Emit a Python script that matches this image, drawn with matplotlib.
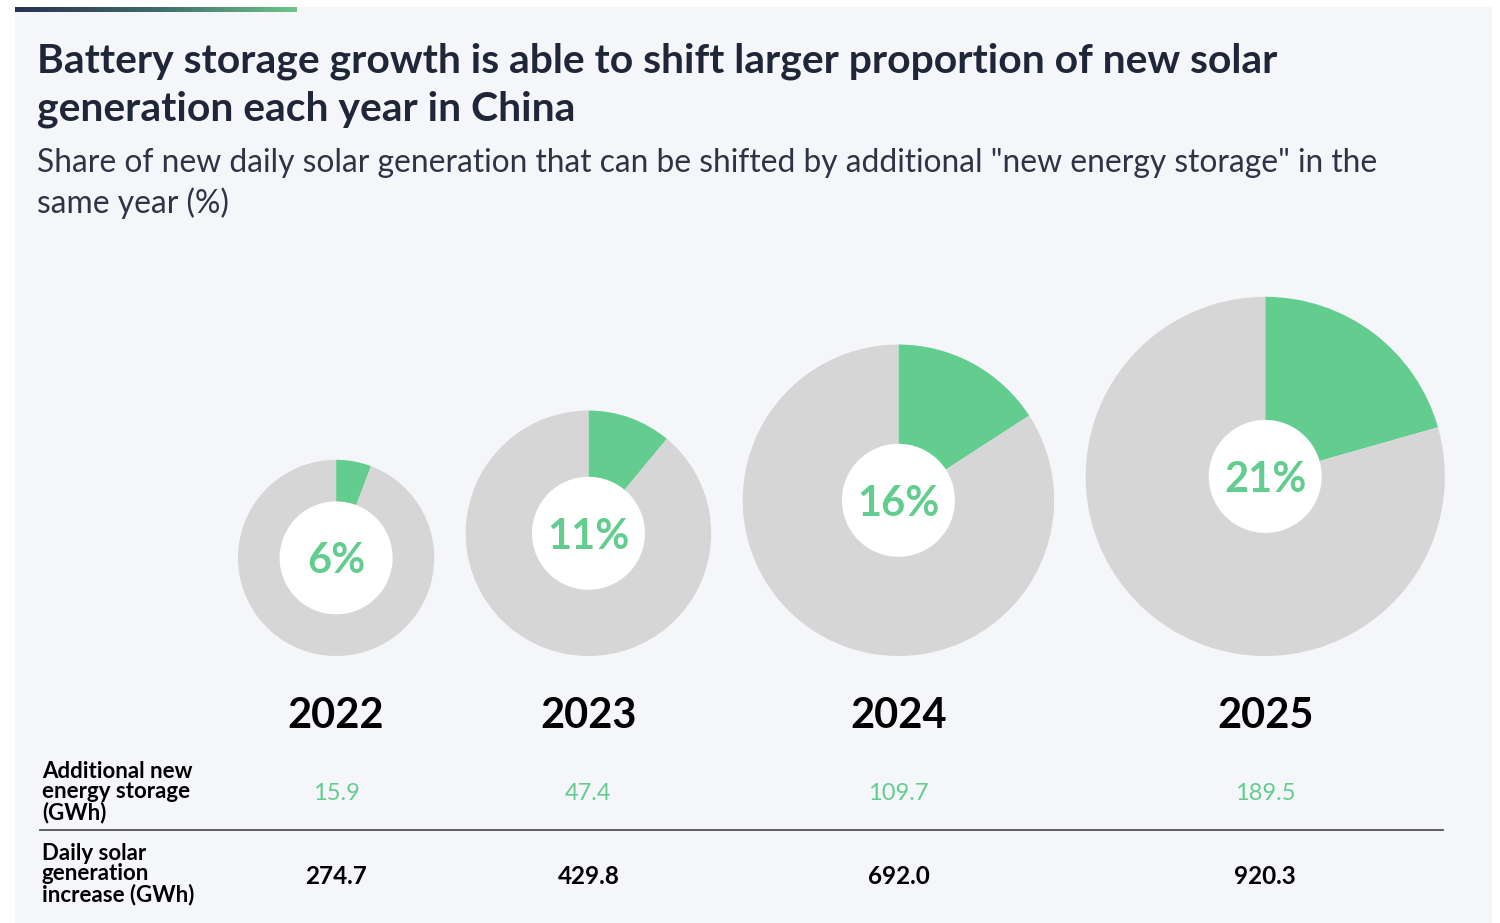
import numpy as np
import matplotlib
matplotlib.use("Agg")
import matplotlib.pyplot as plt
from matplotlib.patches import Rectangle, Circle
from matplotlib.colors import LinearSegmentedColormap

plt.rcParams["font.family"] = ["Lato", "DejaVu Sans"]

# data
years = ["2022", "2023", "2024", "2025"]
storage_gwh = [15.9, 47.4, 109.7, 189.5]
solar_gwh = [274.7, 429.8, 692.0, 920.3]
row_labels = ["Additional new\nenergy storage\n(GWh)",
              "Daily solar\ngeneration\nincrease (GWh)"]

title_lines = ["Battery storage growth is able to shift larger proportion of new solar",
               "generation each year in China"]
subtitle_lines = ["Share of new daily solar generation that can be shifted by additional "
                  "\"new energy storage\" in the",
                  "same year (%)"]

GREEN = "#62cd8e"
GREY = "#d6d6d6"
PANEL = "#f5f6fa"
NAVY = "#1f2638"

W, H = 1500, 923
def Y(p): return H - p   # pixel-from-top -> data y

fig = plt.figure(figsize=(W / 100, H / 100), dpi=100, facecolor="white")
ax = fig.add_axes([0, 0, 1, 1])
ax.axis("off")

# panel + accent bar
ax.add_patch(Rectangle((15, 0), 1477, Y(7), facecolor=PANEL, edgecolor="none", zorder=0))
grad = np.linspace(0, 1, 256).reshape(1, -1)
cmap = LinearSegmentedColormap.from_list("bar", ["#2a3152", "#3f6a6a", "#6cc68a"])
ax.imshow(grad, cmap=cmap, extent=(15, 297, Y(12), Y(7)), aspect="auto", zorder=1)

for line, yb in zip(title_lines, [73, 120]):
    ax.text(37, Y(yb), line, fontsize=29.4, fontweight="bold", color=NAVY,
            va="baseline", ha="left")
for line, yb in zip(subtitle_lines, [172, 213]):
    ax.text(37, Y(yb), line, fontsize=22.9, color="#2e3444",
            va="baseline", ha="left")

# bubbles: area proportional to daily solar increase, bottom aligned
k = 5.92
radii = [k * np.sqrt(v) for v in solar_gwh]
r_in = 56.5
base = 656
gap = 31.5
left = 238
centers = []
for r in radii:
    centers.append(left + r)
    left += 2 * r + gap

for cx, r, s, g, yr in zip(centers, radii, storage_gwh, solar_gwh, years):
    cy = Y(base - r)
    ax.pie([s, g - s], colors=[GREEN, GREY], startangle=90, counterclock=False,
           center=(cx, cy), radius=r, wedgeprops=dict(linewidth=0))
    ax.add_patch(Circle((cx, cy), r_in, facecolor="white", edgecolor="none", zorder=3))
    ax.text(cx, cy, f"{s / g * 100:.0f}%", fontsize=30, fontweight="bold",
            color=GREEN, ha="center", va="center_baseline", zorder=4)
    ax.text(cx, Y(728), yr, fontsize=30, fontweight="bold", color="black",
            ha="center", va="baseline")
    ax.text(cx, Y(792), f"{s:.1f}", fontsize=17, color=GREEN,
            ha="center", va="center_baseline")
    ax.text(cx, Y(874), f"{g:.1f}", fontsize=17.5, fontweight="bold", color="black",
            ha="center", va="center_baseline")

ax.text(42, Y(792), row_labels[0], fontsize=16, fontweight="bold", color="black",
        ha="left", va="center", linespacing=0.95)
ax.text(42, Y(874), row_labels[1], fontsize=16, fontweight="bold", color="black",
        ha="left", va="center", linespacing=0.95)
ax.plot([40, 1443], [Y(830), Y(830)], color="#555555", lw=1.3)

ax.set_xlim(0, W)
ax.set_ylim(0, H)
ax.set_aspect("equal")
fig.savefig("out.png", dpi=100, facecolor="white")
